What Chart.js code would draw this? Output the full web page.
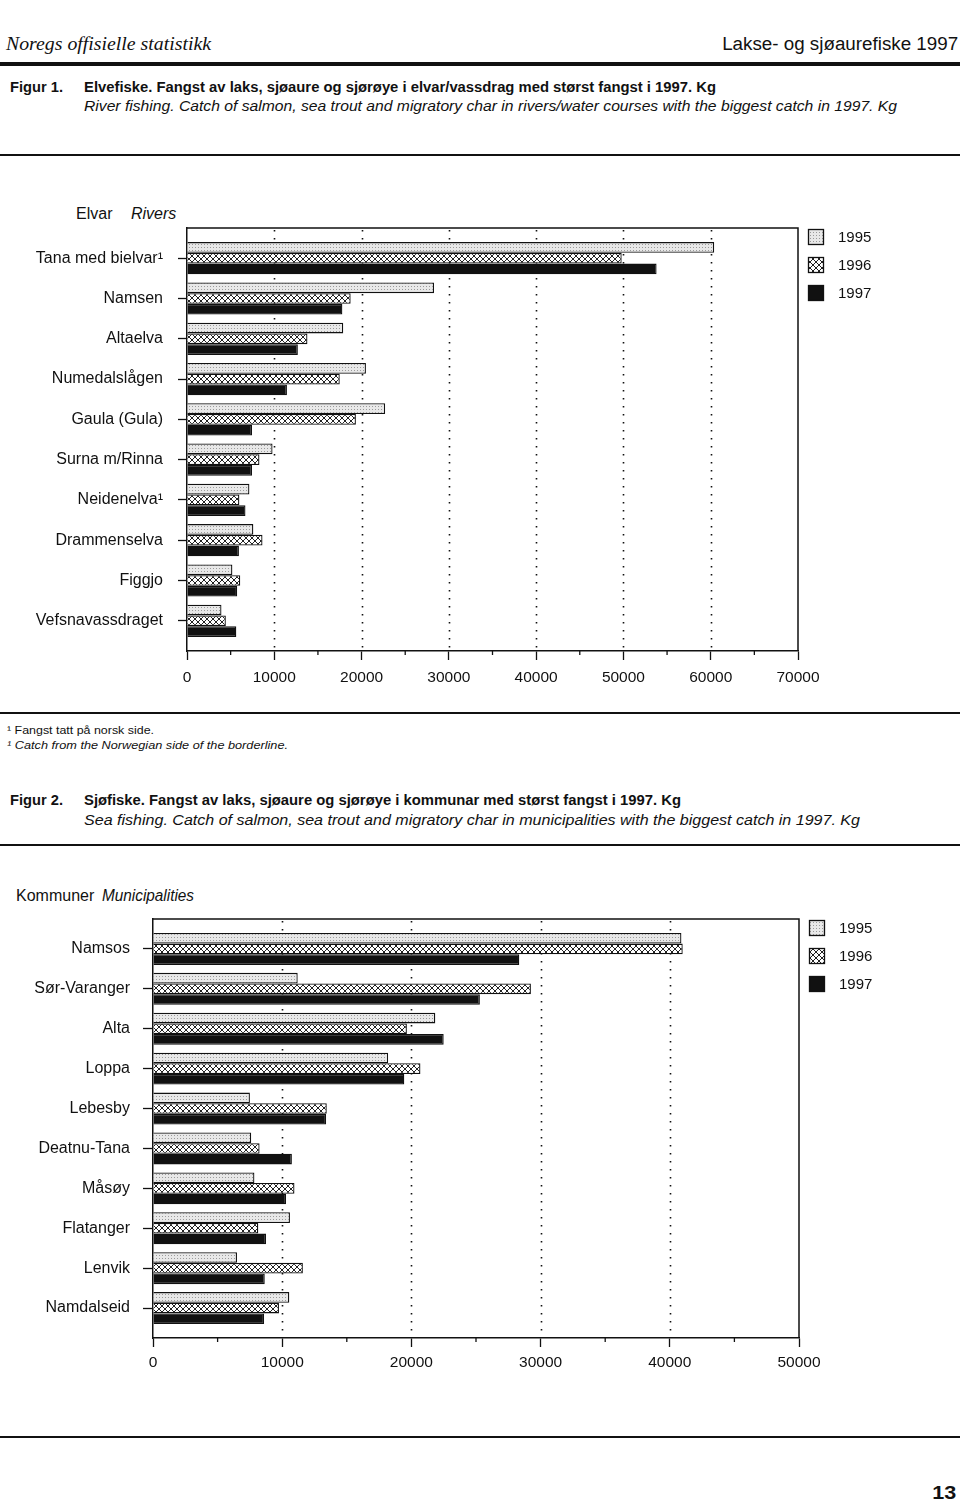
<!DOCTYPE html>
<html><head><meta charset="utf-8">
<script src="https://cdn.jsdelivr.net/npm/chart.js@4"></script>
<style>
html,body{margin:0;padding:0;background:#fff;}
#page{position:relative;width:960px;height:1503px;overflow:hidden;font-family:"Liberation Sans",Arial,sans-serif;color:#111;}
.t{position:absolute;white-space:nowrap;line-height:1;transform-origin:left center;transform:translateY(-50%);}
.r{transform-origin:right center;}
.rule{position:absolute;left:0;width:960px;background:#111;}
canvas.cv{position:absolute;left:0;}
</style></head>
<body><div id="page">
<div class="t" style="left:6px;top:44px;font:italic 18px 'Liberation Serif',serif" data-w="205">Noregs offisielle statistikk</div>
<div class="t r" style="right:2px;top:44px;font:18px 'Liberation Sans',sans-serif" data-w="236">Lakse- og sjøaurefiske 1997</div>
<div class="rule" style="top:62px;height:4px"></div>
<div class="t" style="left:10px;top:87px;font:bold 14px 'Liberation Sans',sans-serif" data-w="53">Figur 1.</div>
<div class="t" style="left:84px;top:87px;font:bold 14px 'Liberation Sans',sans-serif" data-w="632">Elvefiske. Fangst av laks, sjøaure og sjørøye i elvar/vassdrag med størst fangst i 1997. Kg</div>
<div class="t" style="left:84px;top:106px;font:italic 14px 'Liberation Sans',sans-serif" data-w="813">River fishing. Catch of salmon, sea trout and migratory char in rivers/water courses with the biggest catch in 1997. Kg</div>
<div class="rule" style="top:154px;height:2px"></div>
<div class="t" style="left:76px;top:214px;font:16px 'Liberation Sans',sans-serif">Elvar</div>
<div class="t" style="left:131px;top:214px;font:italic 16px 'Liberation Sans',sans-serif">Rivers</div>
<canvas id="c1" class="cv" width="960" height="510" style="top:190px;width:960px;height:510px"></canvas>
<div class="rule" style="top:712px;height:2px"></div>
<div class="t" style="left:7px;top:730px;font:11px 'Liberation Sans',sans-serif" data-w="147">¹ Fangst tatt på norsk side.</div>
<div class="t" style="left:7px;top:745px;font:italic 11px 'Liberation Sans',sans-serif" data-w="281">¹ Catch from the Norwegian side of the borderline.</div>
<div class="t" style="left:10px;top:800px;font:bold 14px 'Liberation Sans',sans-serif" data-w="53">Figur 2.</div>
<div class="t" style="left:84px;top:800px;font:bold 14px 'Liberation Sans',sans-serif" data-w="597">Sjøfiske. Fangst av laks, sjøaure og sjørøye i kommunar med størst fangst i 1997. Kg</div>
<div class="t" style="left:84px;top:820px;font:italic 14px 'Liberation Sans',sans-serif" data-w="776">Sea fishing. Catch of salmon, sea trout and migratory char in municipalities with the biggest catch in 1997. Kg</div>
<div class="rule" style="top:844px;height:2px"></div>
<div class="t" style="left:16px;top:896px;font:16px 'Liberation Sans',sans-serif">Kommuner</div>
<div class="t" style="left:102px;top:896px;font:italic 16px 'Liberation Sans',sans-serif" data-w="92">Municipalities</div>
<canvas id="c2" class="cv" width="960" height="510" style="top:880px;width:960px;height:510px"></canvas>
<div class="rule" style="top:1436px;height:2px"></div>
<div class="t r" style="right:4px;top:1493px;font:bold 19px 'Liberation Sans',sans-serif" data-w="24">13</div>
</div>
<script>
// ---- data ----
const years = ["1995", "1996", "1997"];
const riverNames = ["Tana med bielvar¹", "Namsen", "Altaelva", "Numedalslågen", "Gaula (Gula)", "Surna m/Rinna", "Neidenelva¹", "Drammenselva", "Figgjo", "Vefsnavassdraget"];
const river1995 = [60400, 28300, 17900, 20500, 22700, 9800, 7150, 7600, 5200, 3950];
const river1996 = [49800, 18750, 13800, 17500, 19350, 8300, 6000, 8650, 6100, 4450];
const river1997 = [53800, 17800, 12700, 11450, 7450, 7450, 6700, 5950, 5750, 5650];
const riverTicks = [0, 10000, 20000, 30000, 40000, 50000, 60000, 70000];

const muniNames = ["Namsos", "Sør-Varanger", "Alta", "Loppa", "Lebesby", "Deatnu-Tana", "Måsøy", "Flatanger", "Lenvik", "Namdalseid"];
const muni1995 = [40900, 11200, 21850, 18200, 7500, 7600, 7850, 10600, 6500, 10550];
const muni1996 = [41000, 29250, 19650, 20700, 13450, 8250, 10950, 8150, 11600, 9750];
const muni1997 = [28350, 25300, 22500, 19450, 13400, 10750, 10300, 8750, 8650, 8600];
const muniTicks = [0, 10000, 20000, 30000, 40000, 50000];

// ---- text fitting ----
document.querySelectorAll('[data-w]').forEach(el => {
  const w = el.getBoundingClientRect().width;
  el.style.transform = 'translateY(-50%) scaleX(' + (+el.dataset.w / w) + ')';
});

// ---- patterns ----
function pattern95() {
  const c = document.createElement('canvas'); c.width = 3; c.height = 3;
  const g = c.getContext('2d');
  g.fillStyle = '#e8e8e8'; g.fillRect(0, 0, 3, 3);
  g.fillStyle = '#9a9a9a'; g.fillRect(0, 0, 1, 1);
  return g.createPattern(c, 'repeat');
}
function pattern96() {
  const c = document.createElement('canvas'); c.width = 6; c.height = 6;
  const g = c.getContext('2d');
  g.fillStyle = '#fff'; g.fillRect(0, 0, 6, 6);
  g.strokeStyle = '#222'; g.lineWidth = 1;
  g.beginPath(); g.moveTo(0, 0); g.lineTo(6, 6); g.moveTo(6, 0); g.lineTo(0, 6); g.stroke();
  return g.createPattern(c, 'repeat');
}
const fills = [pattern95(), pattern96(), '#111'];
const FONT = "'Liberation Sans', Arial, sans-serif";

const framePlugin = {
  id: 'frame',
  beforeDatasetsDraw(chart) {
    const {ctx, chartArea: a, scales: {x}} = chart;
    const ticks = chart.options.plugins.frame.ticks;
    const max = ticks[ticks.length - 1];
    ctx.save();
    ctx.strokeStyle = '#111';
    ctx.lineWidth = 1.6;
    ctx.setLineDash([1.6, 6.4]);
    ticks.forEach(v => {
      if (v <= 0 || v >= max) return;
      const px = Math.round(x.getPixelForValue(v)) + 0.5;
      ctx.beginPath(); ctx.moveTo(px, a.top + 2); ctx.lineTo(px, a.bottom); ctx.stroke();
    });
    ctx.restore();
  },
  afterDraw(chart) {
    const {ctx, chartArea: a, scales: {x}} = chart;
    const ticks = chart.options.plugins.frame.ticks;
    ctx.save();
    ctx.strokeStyle = '#111';
    ctx.lineWidth = 1.5;
    ctx.beginPath();
    ctx.moveTo(a.left, a.top); ctx.lineTo(a.right, a.top); ctx.lineTo(a.right, a.bottom);
    ctx.stroke();
    // minor ticks
    ctx.lineWidth = 1.3;
    for (let i = 0; i < ticks.length - 1; i++) {
      const px = x.getPixelForValue((ticks[i] + ticks[i + 1]) / 2);
      ctx.beginPath(); ctx.moveTo(px, a.bottom); ctx.lineTo(px, a.bottom + 4); ctx.stroke();
    }
    // legend
    chart.data.datasets.forEach((d, i) => {
      const bx = a.right + 10, by = a.top + 1 + i * 28;
      ctx.fillStyle = d.backgroundColor;
      ctx.fillRect(bx, by, 16, 16);
      ctx.lineWidth = 1.3;
      ctx.strokeStyle = '#111';
      ctx.strokeRect(bx + 0.5, by + 0.5, 15, 15);
      ctx.fillStyle = '#111';
      ctx.font = '15px ' + FONT;
      ctx.textBaseline = 'middle';
      ctx.fillText(d.label, bx + 30, by + 8.5);
    });
    ctx.restore();
  }
};

function makeChart(id, names, series, ticksArr, g) {
  const datasets = series.map((vals, k) => ({
    label: years[k],
    data: vals.map((v, i) => ({x: v, y: i})),
    backgroundColor: fills[k],
    borderColor: '#111',
    borderWidth: 1.3,
    borderSkipped: 'start'
  }));
  return new Chart(document.getElementById(id), {
    type: 'bar',
    data: {datasets},
    options: {
      indexAxis: 'y',
      responsive: false,
      maintainAspectRatio: false,
      animation: false,
      events: [],
      layout: {padding: {top: g.top, right: g.right, left: 0, bottom: 0}},
      datasets: {bar: {categoryPercentage: 0.8, barPercentage: 1}},
      plugins: {legend: {display: false}, tooltip: {enabled: false}, frame: {ticks: ticksArr}},
      scales: {
        x: {
          type: 'linear', position: 'bottom', offset: false,
          min: ticksArr[0], max: ticksArr[ticksArr.length - 1],
          afterBuildTicks: s => { s.ticks = ticksArr.map(v => ({value: v})); },
          ticks: {callback: v => String(v), font: {size: 15.5, family: FONT}, color: '#111', padding: g.xpad, maxRotation: 0, autoSkip: false},
          grid: {offset: false, drawOnChartArea: false, drawTicks: true, tickLength: 9, tickColor: '#111', tickWidth: 1.3},
          border: {display: true, color: '#111', width: 1.5},
          afterFit: s => { s.height = g.xh; }
        },
        y: {
          type: 'linear', position: 'left', reverse: true, offset: false,
          min: -0.75, max: names.length - 0.25,
          afterBuildTicks: s => { s.ticks = names.map((n, i) => ({value: i})); },
          ticks: {callback: v => names[v], font: {size: 16, family: FONT}, color: '#111', padding: g.ypad, autoSkip: false},
          grid: {offset: false, drawOnChartArea: false, drawTicks: true, tickLength: g.ytl, tickColor: '#111', tickWidth: 1.3},
          border: {display: true, color: '#111', width: 1.5},
          afterFit: s => { s.width = g.yw; }
        }
      }
    },
    plugins: [framePlugin]
  });
}

makeChart('c1', riverNames, [river1995, river1996, river1997], riverTicks,
  {top: 38, right: 162, xh: 49, xpad: 8, yw: 187, ytl: 9, ypad: 15});
makeChart('c2', muniNames, [muni1995, muni1996, muni1997], muniTicks,
  {top: 39, right: 161, xh: 52, xpad: 6, yw: 153, ytl: 10, ypad: 13});
</script>
</body></html>
